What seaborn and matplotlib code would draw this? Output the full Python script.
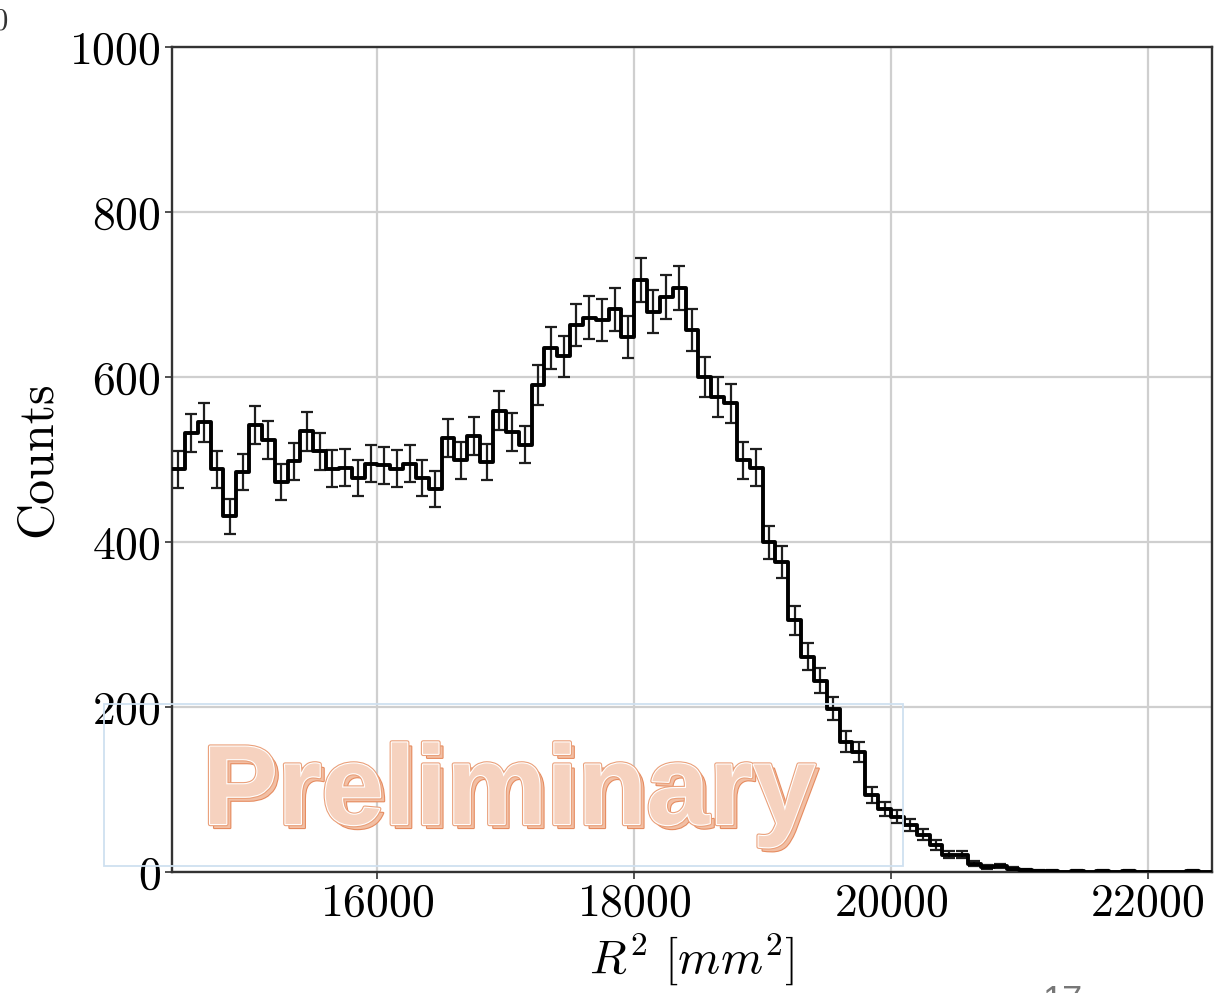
import numpy as np
import pandas as pd
import matplotlib
matplotlib.use("Agg")
import matplotlib.pyplot as plt
import matplotlib.patheffects as pe
from matplotlib.patches import Rectangle
from matplotlib import transforms
import seaborn as sns

# ---------------- data ----------------
bin_start = 14400
bin_width = 100
counts = [488, 532, 545, 488, 431, 485, 542, 524, 473, 498,
          534, 510, 489, 490, 477, 495, 493, 489, 495, 478,
          464, 526, 499, 528, 497, 559, 533, 518, 590, 635,
          625, 663, 672, 669, 682, 649, 718, 679, 697, 708,
          657, 600, 576, 568, 499, 490, 400, 376, 305, 261,
          232, 198, 158, 145, 93, 76, 67, 57, 45, 33,
          21, 21, 10, 6, 7, 4, 2, 1, 1, 0,
          1, 0, 1, 0, 1, 0, 0, 0, 0, 1, 0]
x_ticks = [16000, 18000, 20000, 22000]
y_ticks = [0, 200, 400, 600, 800, 1000]
x_label = r"$R^2\ [mm^2]$"
y_label = "Counts"
watermark = "Preliminary"

counts = np.array(counts, dtype=float)
n = len(counts)
edges = bin_start + bin_width * np.arange(n + 1)
centers = 0.5 * (edges[:-1] + edges[1:])
errors = np.sqrt(counts)
df = pd.DataFrame({"x": centers, "w": counts})

# ---------------- style ----------------
sns.set_style("whitegrid", {"grid.color": "#cfcfcf", "axes.edgecolor": "#222222",
                            "text.color": "black", "axes.labelcolor": "black",
                            "xtick.color": "black", "ytick.color": "black"})
plt.rcParams["font.family"] = ["cmr10", "DejaVu Serif"]
plt.rcParams["mathtext.fontset"] = "cm"
plt.rcParams["axes.formatter.use_mathtext"] = True

fig = plt.figure(figsize=(12.29, 9.93), dpi=100)
ax = fig.add_axes([172 / 1229, 1 - 872 / 993, (1212 - 172) / 1229, (872 - 47) / 993])

sns.histplot(data=df, x="x", weights="w", binwidth=bin_width,
             binrange=(bin_start, bin_start + bin_width * n),
             element="step", fill=False, color="black", linewidth=2.8, ax=ax, zorder=3)
ax.errorbar(centers, counts, yerr=errors, fmt="none", ecolor="#1e1e1e",
            elinewidth=1.6, capsize=4.5, capthick=1.6, zorder=2)

ax.set_xlim(14400, 22500)
ax.set_ylim(0, 1000)
ax.set_xticks(x_ticks)
ax.set_yticks(y_ticks)
ax.grid(True, color="#cfcfcf", linewidth=1.6)
ax.set_axisbelow(True)
for s in ax.spines.values():
    s.set_visible(True)
    s.set_color("#333333")
    s.set_linewidth(1.7)
ax.tick_params(axis="both", which="major", direction="out", length=5, width=1.2,
               color="#333333", labelcolor="black", labelsize=33, pad=3,
               bottom=True, left=True)
ax.set_xlabel(x_label, fontsize=34.5, labelpad=4, color="black")
ax.set_ylabel(y_label, fontsize=36, labelpad=6, color="black")

# ---------------- watermark ----------------
rect = Rectangle((104 / 1229, 1 - 866 / 993), (903 - 104) / 1229, (866 - 704) / 993,
                 transform=fig.transFigure, fill=False, edgecolor="#cfe0f0",
                 linewidth=1.3, zorder=10)
fig.patches.append(rect)

wx, wy = 509 / 1229, 1 - 824 / 993
shadow_tr = transforms.offset_copy(fig.transFigure, fig=fig, x=4, y=-4, units="dots")
fig.text(wx, wy, watermark, transform=shadow_tr, ha="center", va="baseline",
         family="Liberation Sans", fontweight="bold", fontsize=81, color="#f2bfa4",
         path_effects=[pe.Stroke(linewidth=1.6, foreground="#e68c60"), pe.Normal()],
         zorder=11)
fig.text(wx, wy, watermark, ha="center", va="baseline",
         family="Liberation Sans", fontweight="bold", fontsize=81, color="#f6d2bf",
         path_effects=[pe.Stroke(linewidth=3.2, foreground="#eaa07a"),
                       pe.Stroke(linewidth=1.6, foreground="white"), pe.Normal()],
         zorder=12)

# slide remnants at the edges
fig.text(1062 / 1229, 8 / 993, "17", ha="center", va="top", fontsize=26,
         family="Liberation Sans", color="#777777")
fig.text(0.0, 1 - 22 / 993, "0", ha="center", va="center", fontsize=22, color="#333333")

fig.savefig("out.png", dpi=100)
